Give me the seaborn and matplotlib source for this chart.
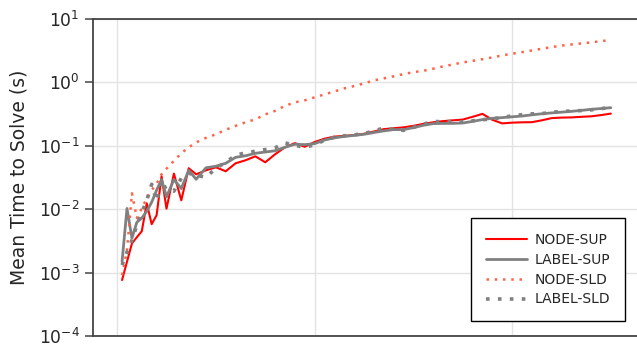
import numpy as np
import pandas as pd
import seaborn as sns
import matplotlib.pyplot as plt
from matplotlib.ticker import LogLocator, NullLocator

# problem size (no tick labels shown on the original x axis)
SIZES = [1, 2, 3, 4, 5, 6, 7, 8, 9, 10, 11.5, 13, 14.5,
         16, 18, 20, 22, 24, 26, 28, 30, 32, 34, 36, 38, 40, 42, 44, 46, 48, 50,
         52, 54, 56, 58, 60, 62, 64, 66, 68, 70, 72, 74, 76, 78, 80, 82, 84, 86,
         88, 90, 92, 94, 96, 98, 100]

NODE_SUP = [7.6e-4, 1.48e-3, 2.87e-3, 3.6e-3, 4.48e-3, 1.23e-2, 5.77e-3, 8.0e-3, 3.28e-2, 1.01e-2,
            3.61e-2, 1.37e-2, 4.39e-2,
            0.0352, 0.0407, 0.0454, 0.0393, 0.0525, 0.0585, 0.0676, 0.0544, 0.0728, 0.0937,
            0.109, 0.0955, 0.1135, 0.128, 0.138, 0.142, 0.146, 0.153, 0.166, 0.181, 0.187,
            0.193, 0.204, 0.219, 0.232, 0.242, 0.249, 0.256, 0.283, 0.315, 0.254, 0.223,
            0.229, 0.232, 0.233, 0.249, 0.270, 0.275, 0.277, 0.283, 0.288, 0.301, 0.318]

LABEL_SUP = [1.48e-3, 1.02e-2, 3.47e-3, 6.2e-3, 7.2e-3, 9.2e-3, 1.28e-2, 1.98e-2, 2.91e-2, 1.55e-2,
             2.91e-2, 2.10e-2, 0.0407,
             0.0294, 0.0446, 0.0471, 0.0525, 0.0652, 0.0689, 0.0754, 0.0790, 0.0826, 0.0937,
             0.1045, 0.1033, 0.107, 0.122, 0.132, 0.139, 0.1445, 0.150, 0.160, 0.170, 0.178,
             0.178, 0.191, 0.208, 0.221, 0.223, 0.223, 0.226, 0.240, 0.256, 0.268, 0.275,
             0.283, 0.291, 0.304, 0.316, 0.326, 0.335, 0.345, 0.357, 0.371, 0.382, 0.394]

NODE_SLD = [9.1e-4, 2.25e-3, 1.77e-2, 7.2e-3, 1.03e-2, 0.0148, 0.0198, 0.0250, 0.0352, 0.0431,
            0.0574, 0.0754, 0.0937,
            0.112, 0.132, 0.150, 0.177, 0.204, 0.232, 0.258, 0.309, 0.351, 0.421, 0.478,
            0.514, 0.573, 0.638, 0.711, 0.793, 0.863, 0.951, 1.06, 1.14, 1.23, 1.33, 1.43,
            1.50, 1.62, 1.76, 1.89, 2.03, 2.15, 2.29, 2.44, 2.62, 2.79, 2.95, 3.14, 3.34,
            3.55, 3.74, 3.90, 4.05, 4.20, 4.40, 4.59]

LABEL_SLD = [1.31e-3, 2.09e-3, 3.23e-3, 5.56e-3, 8.9e-3, 1.37e-2, 2.45e-2, 1.33e-2, 2.84e-2, 1.98e-2,
             1.91e-2, 3.05e-2, 3.66e-2,
             0.0340, 0.0316, 0.0438, 0.0544, 0.0702, 0.0768, 0.0811, 0.0863, 0.0921, 0.110,
             0.1007, 0.0937, 0.1026, 0.121, 0.135, 0.142, 0.147, 0.154, 0.170, 0.188, 0.180,
             0.173, 0.193, 0.216, 0.240, 0.236, 0.240, 0.236, 0.245, 0.254, 0.263, 0.277,
             0.293, 0.306, 0.315, 0.318, 0.333, 0.345, 0.348, 0.355, 0.364, 0.380, 0.399]

SERIES = [
    ('NODE-SUP', NODE_SUP, 'red', 1.5, '-'),
    ('LABEL-SUP', LABEL_SUP, 'grey', 2.0, '-'),
    ('NODE-SLD', NODE_SLD, 'tomato', 1.8, (0, (1, 2.3))),
    ('LABEL-SLD', LABEL_SLD, 'grey', 2.6, (0, (1, 2.3))),
]


def main():
    sns.set_theme(style='white')
    plt.rcParams['font.family'] = ['DejaVu Sans']

    fig = plt.figure(figsize=(6.37, 3.46), dpi=100)
    ax = fig.add_axes([0.1455, 0.0289, 0.8545, 0.9176])

    for name, vals, color, lw, ls in SERIES:
        sns.lineplot(x=SIZES, y=vals, ax=ax, color=color, linewidth=lw,
                     linestyle=ls, label=name)

    ax.set_yscale('log')
    ax.set_ylim(1e-4, 1e1)
    ax.set_xlim(-4.95, 105.3)
    ax.yaxis.set_major_locator(LogLocator(base=10, numticks=10))
    ax.yaxis.set_minor_locator(NullLocator())
    ax.set_xticks([0, 40, 80])
    ax.set_xticklabels([])
    ax.tick_params(axis='x', length=0)
    ax.tick_params(axis='y', length=5.5, width=1.1, color='#444444',
                   labelsize=12.3, pad=4, left=True)
    ax.grid(True, color='#e3e3e3', linewidth=1.0)
    ax.set_axisbelow(True)

    for side in ['left', 'bottom', 'top']:
        ax.spines[side].set_color('#444444')
        ax.spines[side].set_linewidth(1.3)
    ax.spines['right'].set_visible(False)

    ax.set_ylabel('Mean Time to Solve (s)', fontsize=13.5, labelpad=7)
    ax.set_xlabel('')

    leg = ax.legend(loc='lower right', bbox_to_anchor=(0.978, 0.047), borderaxespad=0,
                    fontsize=10, frameon=True, fancybox=False, framealpha=1,
                    edgecolor='black', handlelength=3.0, handletextpad=0.55,
                    labelspacing=0.42, borderpad=1.05)
    leg.get_frame().set_linewidth(1.0)

    fig.savefig('out.png', dpi=100)


if __name__ == '__main__':
    main()
